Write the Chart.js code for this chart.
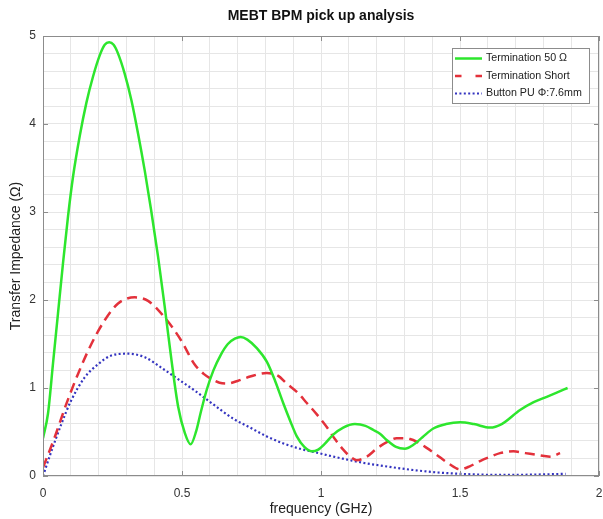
<!DOCTYPE html>
<html>
<head>
<meta charset="utf-8">
<title>MEBT BPM pick up analysis</title>
<script src="https://cdn.jsdelivr.net/npm/chart.js@4.4.1/dist/chart.umd.min.js"></script>
<style>
    html, body { margin: 0; padding: 0; background: #fff; }
    #wrap { width: 603px; height: 519px; }
</style>
</head>
<body>
<div id="wrap"><canvas id="bpmChart" width="603" height="519"></canvas></div>
<script>
// Series (frequency in GHz, impedance in Ohm)
const seriesLabels = ['Termination 50 \u03A9', 'Termination Short', 'Button PU \u03A6:7.6mm'];

const freq50 = [0, 0.018, 0.036, 0.054, 0.072, 0.09, 0.108, 0.132, 0.156, 0.18, 0.204, 0.222, 0.238, 0.254,
    0.27, 0.294, 0.318, 0.342, 0.366, 0.389, 0.414, 0.438, 0.462, 0.486, 0.51, 0.531, 0.551, 0.568, 0.589,
    0.613, 0.64, 0.665, 0.69, 0.711, 0.735, 0.77, 0.805, 0.835, 0.864, 0.89, 0.913, 0.94, 0.967, 0.99, 1.015,
    1.044, 1.08, 1.122, 1.16, 1.19, 1.212, 1.236, 1.27, 1.302, 1.33, 1.365, 1.404, 1.45, 1.5, 1.55, 1.608,
    1.65, 1.716, 1.765, 1.812, 1.85, 1.887];
const imp50 = [0.43, 0.71, 1.28, 1.85, 2.42, 2.95, 3.40, 3.86, 4.24, 4.54, 4.78, 4.9, 4.93, 4.9,
    4.8, 4.57, 4.27, 3.89, 3.47, 3.02, 2.49, 1.92, 1.32, 0.79, 0.49, 0.36, 0.51, 0.73, 0.98,
    1.2, 1.38, 1.5, 1.56, 1.58, 1.55, 1.45, 1.3, 1.08, 0.83, 0.62, 0.45, 0.33, 0.28, 0.3, 0.37,
    0.47, 0.55, 0.59, 0.57, 0.52, 0.48, 0.41, 0.33, 0.31, 0.35, 0.44, 0.54, 0.59, 0.61, 0.59, 0.55,
    0.59, 0.75, 0.84, 0.9, 0.95, 1.0];

const freqShort = [0, 0.042, 0.084, 0.126, 0.174, 0.222, 0.27, 0.33, 0.378, 0.438, 0.497, 0.545, 0.578,
    0.607, 0.635, 0.661, 0.7, 0.745, 0.805, 0.845, 0.877, 0.915, 0.949, 0.985, 1.02, 1.05, 1.08, 1.105,
    1.128, 1.165, 1.2, 1.24, 1.272, 1.296, 1.32, 1.344, 1.38, 1.416, 1.46, 1.5, 1.535, 1.572, 1.61, 1.644,
    1.692, 1.735, 1.776, 1.824, 1.86];
const impShort = [0.095, 0.44, 0.82, 1.16, 1.50, 1.77, 1.96, 2.03, 1.99, 1.80, 1.54, 1.27, 1.16,
    1.1, 1.06, 1.05, 1.08, 1.13, 1.17, 1.14, 1.05, 0.95, 0.83, 0.7, 0.56, 0.42, 0.3, 0.22,
    0.18, 0.22, 0.31, 0.39, 0.43, 0.43, 0.42, 0.39, 0.32, 0.24, 0.14, 0.076, 0.11, 0.17, 0.22, 0.26,
    0.28, 0.26, 0.24, 0.22, 0.26];

const freqButton = [0, 0.03, 0.066, 0.10, 0.15, 0.198, 0.246, 0.306, 0.366, 0.426, 0.486, 0.546, 0.61,
    0.685, 0.745, 0.805, 0.865, 0.924, 0.985, 1.045, 1.104, 1.16, 1.212, 1.284, 1.332, 1.42, 1.512, 1.58,
    1.656, 1.75, 1.82, 1.88];
const impButton = [0, 0.28, 0.59, 0.85, 1.12, 1.27, 1.37, 1.39, 1.35, 1.23, 1.10, 0.97, 0.82,
    0.65, 0.55, 0.45, 0.37, 0.31, 0.265, 0.22, 0.18, 0.145, 0.12, 0.087, 0.068, 0.04, 0.023, 0.015,
    0.012, 0.015, 0.02, 0.025];

// Tick labels
const xTickValues = [0, 0.5, 1, 1.5, 2];
const xTickLabels = ['0', '0.5', '1', '1.5', '2'];
const yTickValues = [0, 1, 2, 3, 4, 5];
const yTickLabels = ['0', '1', '2', '3', '4', '5'];

const FONT = '"Liberation Sans", Arial, Helvetica, sans-serif';

function toPoints(xs, ys) {
    return xs.map((x, i) => ({ x: x, y: ys[i] }));
}

function labelFor(values, labels, v) {
    const idx = values.findIndex(t => Math.abs(t - v) < 1e-6);
    return idx >= 0 ? labels[idx] : '';
}

// Box round the axes plus small inward tick marks on all four sides
const framePlugin = {
    id: 'frame',
    afterDatasetsDraw(chart) {
        const { ctx, chartArea: a, scales } = chart;
        ctx.save();
        ctx.strokeStyle = '#8c8c8c';
        ctx.lineWidth = 1;
        ctx.strokeRect(a.left + 0.5, a.top + 0.5, a.right - a.left - 1, a.bottom - a.top - 1);
        ctx.beginPath();
        xTickValues.forEach(v => {
            const px = Math.round(scales.x.getPixelForValue(v)) + 0.5;
            ctx.moveTo(px, a.bottom); ctx.lineTo(px, a.bottom - 5);
            ctx.moveTo(px, a.top); ctx.lineTo(px, a.top + 5);
        });
        yTickValues.forEach(v => {
            const py = Math.round(scales.y.getPixelForValue(v)) + 0.5;
            ctx.moveTo(a.left, py); ctx.lineTo(a.left + 5, py);
            ctx.moveTo(a.right, py); ctx.lineTo(a.right - 5, py);
        });
        ctx.stroke();
        ctx.restore();
    }
};

// Legend box in the top right corner of the axes
const legendBoxPlugin = {
    id: 'legendBox',
    afterDraw(chart) {
        const ctx = chart.ctx;
        const box = { x: 452.5, y: 48.5, w: 137, h: 55 };
        ctx.save();
        ctx.fillStyle = '#ffffff';
        ctx.fillRect(box.x, box.y, box.w, box.h);
        ctx.strokeStyle = '#8c8c8c';
        ctx.lineWidth = 1;
        ctx.strokeRect(box.x, box.y, box.w, box.h);
        ctx.font = '10.7px ' + FONT;
        ctx.textBaseline = 'middle';
        chart.data.datasets.forEach((ds, i) => {
            const y = 58.5 + i * 17.5;
            ctx.beginPath();
            ctx.strokeStyle = ds.borderColor;
            ctx.lineWidth = ds.borderWidth;
            ctx.setLineDash(ds.legendDash);
            ctx.moveTo(455, y);
            ctx.lineTo(482, y);
            ctx.stroke();
            ctx.setLineDash([]);
            ctx.fillStyle = '#222';
            ctx.fillText(ds.label, 486, y);
        });
        ctx.restore();
    }
};

document.addEventListener('DOMContentLoaded', () => {
    const ctx = document.getElementById('bpmChart').getContext('2d');
    new Chart(ctx, {
        type: 'line',
        data: {
            datasets: [{
                label: seriesLabels[0],
                data: toPoints(freq50, imp50),
                borderColor: '#2de62d',
                borderWidth: 2.5,
                legendDash: [],
                pointRadius: 0,
                cubicInterpolationMode: 'monotone'
            }, {
                label: seriesLabels[1],
                data: toPoints(freqShort, impShort),
                borderColor: '#e3313b',
                borderWidth: 2.5,
                borderDash: [10, 6],
                legendDash: [6.5, 14],
                pointRadius: 0,
                cubicInterpolationMode: 'monotone'
            }, {
                label: seriesLabels[2],
                data: toPoints(freqButton, impButton),
                borderColor: '#3434c0',
                borderWidth: 2.2,
                borderDash: [2, 2.4],
                legendDash: [2, 2.4],
                pointRadius: 0,
                cubicInterpolationMode: 'monotone'
            }]
        },
        options: {
            responsive: false,
            animation: false,
            layout: { padding: { left: 0, right: 4, top: 0, bottom: 0 } },
            plugins: {
                legend: { display: false },
                tooltip: { enabled: false },
                title: {
                    display: true,
                    fullSize: false,
                    text: 'MEBT BPM pick up analysis',
                    color: '#111',
                    font: { family: FONT, size: 14, weight: 'bold' },
                    padding: { top: 8, bottom: 11.2 }
                }
            },
            scales: {
                x: {
                    type: 'linear',
                    min: 0,
                    max: 2,
                    afterFit: scale => {
                        scale.height = 43;
                        scale.paddingLeft = 0;
                        scale.paddingRight = 0;
                    },
                    border: { display: false },
                    grid: { color: '#e6e6e6', drawTicks: false },
                    ticks: {
                        stepSize: 0.1,
                        autoSkip: false,
                        maxRotation: 0,
                        padding: 10,
                        color: '#333',
                        font: { family: FONT, size: 12 },
                        callback: v => labelFor(xTickValues, xTickLabels, v)
                    },
                    title: {
                        display: true,
                        text: 'frequency (GHz)',
                        color: '#222',
                        font: { family: FONT, size: 14 },
                        padding: { top: 0, bottom: 1 }
                    }
                },
                y: {
                    min: 0,
                    max: 5,
                    afterFit: scale => {
                        scale.width = 43;
                        scale.paddingTop = 0;
                        scale.paddingBottom = 0;
                    },
                    border: { display: false },
                    grid: { color: '#e6e6e6', drawTicks: false },
                    ticks: {
                        stepSize: 0.2,
                        autoSkip: false,
                        padding: 7,
                        color: '#333',
                        font: { family: FONT, size: 12 },
                        callback: v => labelFor(yTickValues, yTickLabels, v)
                    },
                    title: {
                        display: true,
                        text: 'Transfer Impedance (\u03A9)',
                        color: '#222',
                        font: { family: FONT, size: 14 },
                        padding: { top: 8, bottom: 0 }
                    }
                }
            }
        },
        plugins: [framePlugin, legendBoxPlugin]
    });
});
</script>
</body>
</html>
